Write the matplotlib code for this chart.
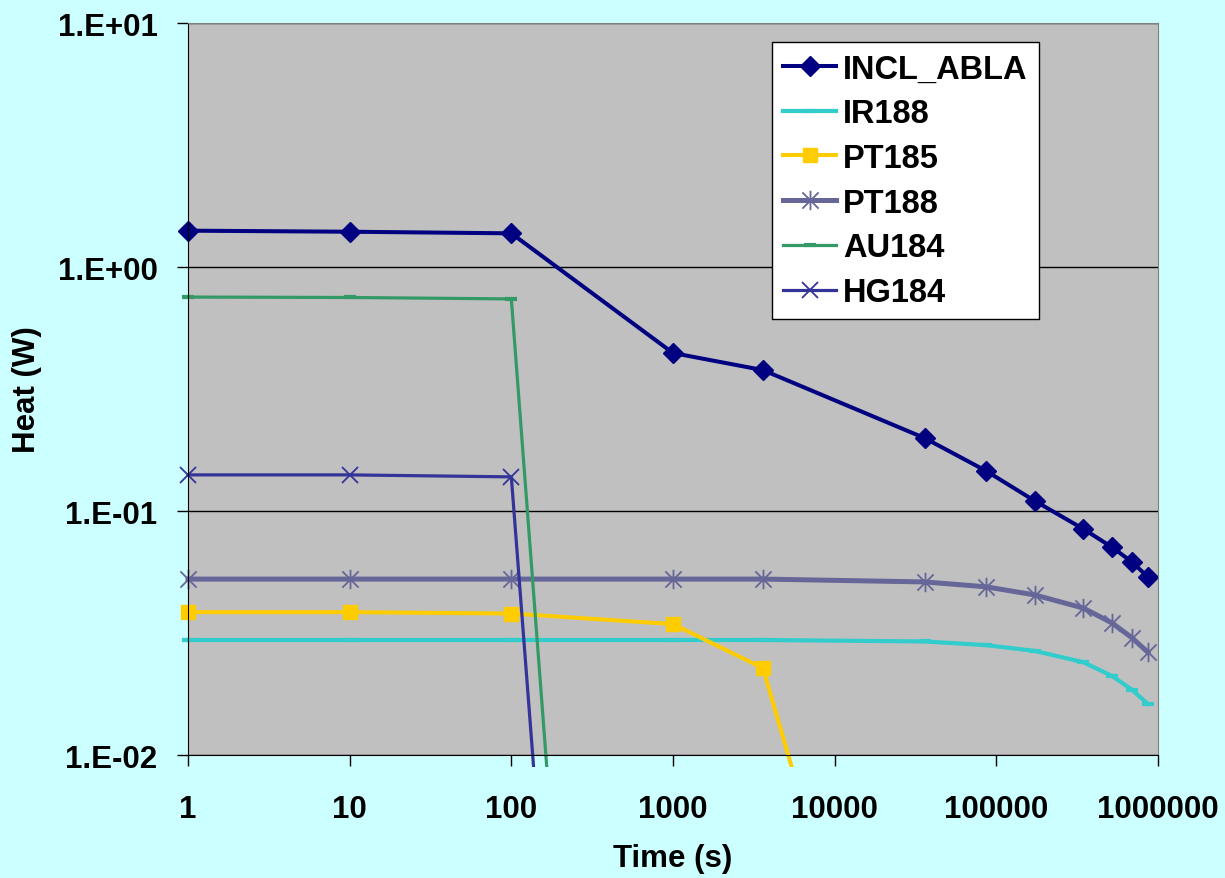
import numpy as np
import matplotlib
matplotlib.use('Agg')
import matplotlib.pyplot as plt
from matplotlib.path import Path
from matplotlib.transforms import Bbox, TransformedBbox

plt.rcParams['font.family'] = ['Liberation Sans', 'DejaVu Sans']
plt.rcParams['font.weight'] = 'bold'
plt.rcParams['axes.labelweight'] = 'bold'
plt.rcParams['font.size'] = 22.5

# time points (s)
t = [1, 10, 100, 1000, 3600, 36000, 86400, 172800, 345600, 518400, 691200, 864000]

incl_abla = [1.409, 1.395, 1.374, 0.444, 0.378, 0.199, 0.146, 0.110, 0.0844, 0.0711, 0.0618, 0.0537]
ir188 = [0.0296, 0.0296, 0.0296, 0.0296, 0.0296, 0.0292, 0.0282, 0.0267, 0.0240, 0.0211, 0.0185, 0.0162]
pt185 = [0.0385, 0.0385, 0.0380, 0.0344, 0.0227, 1.2e-4]
pt188 = [0.0526, 0.0526, 0.0526, 0.0526, 0.0526, 0.0512, 0.0489, 0.0453, 0.0400, 0.0348, 0.0302, 0.0264]
au184 = [0.753, 0.750, 0.740, 1.3e-9]
hg184 = [0.1406, 0.1406, 0.138, 3.2e-10]

xticks = [1, 10, 100, 1000, 10000, 100000, 1000000]
xtick_labels = ['1', '10', '100', '1000', '10000', '100000', '1000000']
yticks = [0.01, 0.1, 1, 10]
ytick_labels = ['1.E-02', '1.E-01', '1.E+00', '1.E+01']

# excel style star marker (x with vertical bar)
star = Path([(-1, -1), (1, 1), (-1, 1), (1, -1), (0, -1.2), (0, 1.2)],
            [Path.MOVETO, Path.LINETO, Path.MOVETO, Path.LINETO, Path.MOVETO, Path.LINETO])

fig = plt.figure(figsize=(12.25, 8.79), dpi=100, facecolor='#CCFFFF')
ax = fig.add_axes([188 / 1225, 1 - 756 / 879, 970 / 1225, 732 / 879])
ax.set_facecolor('#C0C0C0')

lines = []
lines += ax.plot(t, incl_abla, color='#000080', lw=2.9, marker='D', ms=10, label='INCL_ABLA')
lines += ax.plot(t, ir188, color='#33CCCC', lw=3, marker='_', ms=9, mew=3, label='IR188')
lines += ax.plot(t[:len(pt185)], pt185, color='#FFCC00', lw=2.9, marker='s', ms=10.5, label='PT185')
lines += ax.plot(t, pt188, color='#666699', lw=3.6, marker=star, ms=14, mew=1.3, label='PT188')
lines += ax.plot(t[:len(au184)], au184, color='#339966', lw=2.3, marker='_', ms=8, mew=3, label='AU184')
lines += ax.plot(t[:len(hg184)], hg184, color='#333399', lw=2.3, marker='x', ms=11, mew=1.3, label='HG184')

# excel lets marks spill a little past the plot area
clip = TransformedBbox(Bbox([[-0.012, -0.016], [1.0, 1.0]]), ax.transAxes)
for ln in lines:
    ln.set_clip_box(clip)

ax.set_xscale('log')
ax.set_yscale('log')
ax.set_xlim(1, 1e6)
ax.set_ylim(0.01, 10)
ax.set_xticks(xticks)
ax.set_xticklabels(xtick_labels)
ax.set_yticks(yticks)
ax.set_yticklabels(ytick_labels)
ax.minorticks_off()
ax.tick_params(axis='x', length=8, width=1, pad=20, direction='out')
ax.tick_params(axis='y', length=8, width=1, pad=14, direction='out')
ax.grid(axis='y', color='black', lw=1)
ax.set_axisbelow(True)

for s in ['left', 'bottom']:
    ax.spines[s].set_color('black')
for s in ['top', 'right']:
    ax.spines[s].set_color('#808080')

ax.set_xlabel('Time (s)', va='center')
ax.xaxis.set_label_coords(0.5, (756 - 859) / 732)
ax.set_ylabel('Heat (W)', va='center')
ax.yaxis.set_label_coords((27 - 188) / 970, 0.5)

leg = ax.legend(loc='upper left', bbox_to_anchor=((772 - 188) / 970, 1 - (43 - 24) / 732),
                borderaxespad=0, fancybox=False, framealpha=1, edgecolor='black',
                handlelength=1.6, handletextpad=0.22, labelspacing=0.42, borderpad=0.35,
                fontsize=23.5)
leg.get_frame().set_linewidth(1)

fig.savefig('out.png', dpi=100, facecolor=fig.get_facecolor())
